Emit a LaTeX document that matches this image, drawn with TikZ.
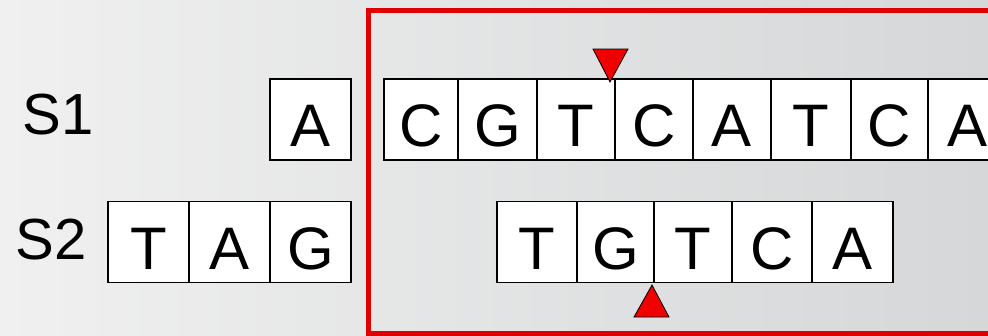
\documentclass[tikz,border=0pt]{standalone}
\usepackage{fontspec}
\setmainfont{Liberation Sans}
\definecolor{bgl}{HTML}{F0F0F0}
\definecolor{bgr}{HTML}{D5D7D8}
\definecolor{framered}{HTML}{E00000}
\definecolor{markred}{HTML}{F00000}
\begin{document}
\begin{tikzpicture}[x=1pt,y=-1pt,
  cell/.style={draw=black, line width=1.3pt, fill=white, minimum height=81pt,
    inner sep=0pt, text height=54pt, text depth=0pt, font=\fontsize{60}{70}\selectfont},
  lab/.style={inner sep=0pt, font=\fontsize{58}{70}\selectfont},
  marker/.style={fill=markred, draw=black, line width=0.8pt, line join=miter}]
\useasboundingbox (0,0) rectangle (988,335);
\clip (0,0) rectangle (988,335);
\shade[left color=bgl, right color=bgr] (0,0) rectangle (988,335);
% frame
\draw[framered, line width=5pt] (368,10) rectangle (1030,333);
% labels
\node[lab] (s1) at (58,115) {S1};
\node[lab] (s2) at (51,240) {S2};
% S1 row
\foreach \n/\l/\r/\t in {a0/270/351/A, a1/384/458/C, a2/458/537/G, a3/537/615/T, a4/615/693/C, a5/693/771/A, a6/771/851/T, a7/851/928/C, a8/928/1007/A}
  \node[cell, minimum width={(\r-\l)*1pt}] (\n) at ({(\l+\r)/2},119.5) {\t};
% S2 row
\foreach \n/\l/\r/\t in {b0/108/189/T, b1/189/270/A, b2/270/351/G, b3/497/577/T, b4/577/654/G, b5/654/732/T, b6/732/812/C, b7/812/893/A}
  \node[cell, minimum width={(\r-\l)*1pt}] (\n) at ({(\l+\r)/2},242) {\t};
% markers
\draw[marker] (593,49) -- (628,49) -- (610,82) -- cycle;
\draw[marker] (634,317) -- (669,317) -- (652,285) -- cycle;
\end{tikzpicture}
\end{document}
